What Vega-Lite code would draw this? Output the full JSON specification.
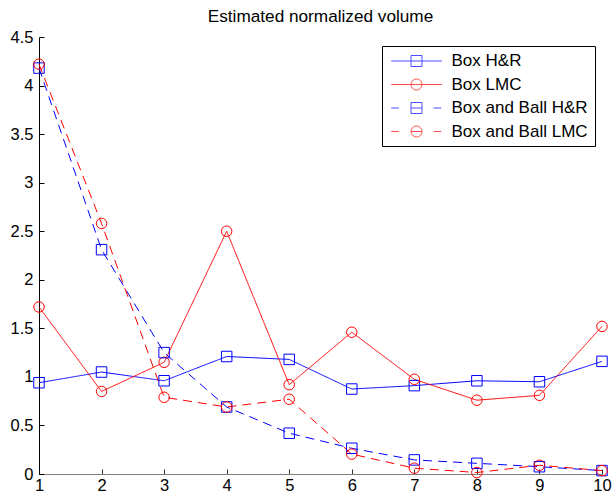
{
  "$schema": "https://vega.github.io/schema/vega-lite/v6.json",
  "width": 563,
  "height": 437,
  "autosize": "none",
  "padding": {"left": 39, "top": 37, "right": 12, "bottom": 25},
  "background": "white",
  "title": {"text": "Estimated normalized volume", "font": "Liberation Sans", "fontSize": 17.2, "fontWeight": "normal", "color": "black", "anchor": "middle", "frame": "group", "baseline": "alphabetic", "offset": 12, "dy": 22},
  "data": {"values": [
    {"x": 1, "series": "Box H&R", "v": 0.94},
    {"x": 2, "series": "Box H&R", "v": 1.05},
    {"x": 3, "series": "Box H&R", "v": 0.96},
    {"x": 4, "series": "Box H&R", "v": 1.21},
    {"x": 5, "series": "Box H&R", "v": 1.18},
    {"x": 6, "series": "Box H&R", "v": 0.875},
    {"x": 7, "series": "Box H&R", "v": 0.91},
    {"x": 8, "series": "Box H&R", "v": 0.96},
    {"x": 9, "series": "Box H&R", "v": 0.95},
    {"x": 10, "series": "Box H&R", "v": 1.16},
    {"x": 1, "series": "Box LMC", "v": 1.72},
    {"x": 2, "series": "Box LMC", "v": 0.85},
    {"x": 3, "series": "Box LMC", "v": 1.15},
    {"x": 4, "series": "Box LMC", "v": 2.5},
    {"x": 5, "series": "Box LMC", "v": 0.92},
    {"x": 6, "series": "Box LMC", "v": 1.46},
    {"x": 7, "series": "Box LMC", "v": 0.975},
    {"x": 8, "series": "Box LMC", "v": 0.76},
    {"x": 9, "series": "Box LMC", "v": 0.81},
    {"x": 10, "series": "Box LMC", "v": 1.52},
    {"x": 1, "series": "Box and Ball H&R", "v": 4.18},
    {"x": 2, "series": "Box and Ball H&R", "v": 2.31},
    {"x": 3, "series": "Box and Ball H&R", "v": 1.25},
    {"x": 4, "series": "Box and Ball H&R", "v": 0.69},
    {"x": 5, "series": "Box and Ball H&R", "v": 0.42},
    {"x": 6, "series": "Box and Ball H&R", "v": 0.265},
    {"x": 7, "series": "Box and Ball H&R", "v": 0.145},
    {"x": 8, "series": "Box and Ball H&R", "v": 0.11},
    {"x": 9, "series": "Box and Ball H&R", "v": 0.075},
    {"x": 10, "series": "Box and Ball H&R", "v": 0.035},
    {"x": 1, "series": "Box and Ball LMC", "v": 4.22},
    {"x": 2, "series": "Box and Ball LMC", "v": 2.58},
    {"x": 3, "series": "Box and Ball LMC", "v": 0.79},
    {"x": 4, "series": "Box and Ball LMC", "v": 0.69},
    {"x": 5, "series": "Box and Ball LMC", "v": 0.77},
    {"x": 6, "series": "Box and Ball LMC", "v": 0.205},
    {"x": 7, "series": "Box and Ball LMC", "v": 0.06},
    {"x": 8, "series": "Box and Ball LMC", "v": 0.015},
    {"x": 9, "series": "Box and Ball LMC", "v": 0.09},
    {"x": 10, "series": "Box and Ball LMC", "v": 0.035}
  ]},
  "encoding": {
    "x": {"field": "x", "type": "quantitative", "scale": {"domain": [1, 10], "nice": false, "zero": false},
      "axis": {"title": null, "values": [1,2,3,4,5,6,7,8,9,10], "format": "d", "grid": false, "labelFlush": false, "labelOverlap": false,
        "domainColor": "#808080", "tickColor": "#333333", "tickSize": -5, "labelFont": "Liberation Sans", "labelFontSize": 16.5, "labelColor": "black", "labelPadding": 8}},
    "y": {"field": "v", "type": "quantitative", "scale": {"domain": [0, 4.5], "nice": false},
      "axis": {"title": null, "values": [0,0.5,1,1.5,2,2.5,3,3.5,4,4.5], "format": "~g", "grid": false, "labelFlush": false, "labelOverlap": false,
        "domainColor": "black", "tickColor": "black", "tickSize": -5, "labelFont": "Liberation Sans", "labelFontSize": 16.5, "labelColor": "black", "labelPadding": 11}}
  },
  "layer": [
    {"mark": {"type": "line", "strokeWidth": 1},
      "encoding": {
        "color": {"field": "series", "type": "nominal", "legend": null,
          "scale": {"domain": ["Box H&R", "Box LMC", "Box and Ball H&R", "Box and Ball LMC"], "range": ["#0000ff", "#ff0000", "#0000ff", "#ff0000"]}},
        "strokeDash": {"field": "series", "type": "nominal", "legend": null,
          "scale": {"domain": ["Box H&R", "Box LMC", "Box and Ball H&R", "Box and Ball LMC"], "range": [[1, 0], [1, 0], [9, 6], [9, 6]]}}}},
    {"mark": {"type": "point", "filled": false, "size": 0, "strokeWidth": 1},
      "encoding": {
        "color": {"field": "series", "type": "nominal",
          "scale": {"domain": ["Box H&R", "Box LMC", "Box and Ball H&R", "Box and Ball LMC"], "range": ["#0000ff", "#ff0000", "#0000ff", "#ff0000"]},
          "legend": {"orient": "none", "legendX": 343, "legendY": 9, "title": null, "padding": 6.5, "strokeColor": "black", "fillColor": "white", "cornerRadius": 0,
            "symbolSize": 121, "symbolOffset": 19.5, "labelOffset": 26.5, "labelFont": "Liberation Sans", "labelFontSize": 17, "labelColor": "black", "rowPadding": 5.5, "symbolStrokeWidth": 1, "labelLimit": 300}},
        "shape": {"field": "series", "type": "nominal",
          "scale": {"domain": ["Box H&R", "Box LMC", "Box and Ball H&R", "Box and Ball LMC"],
            "range": ["M-4.6,0H4.6M-1,-1H1V1H-1Z", "M-4.6,0H4.6M1,0A1,1,0,1,1,-1,0A1,1,0,1,1,1,0", "M-4.6,0H-3.2M3.1,0H4.5M-1,0H1M-1,-1H1V1H-1Z", "M-4.6,0H-3.2M3.1,0H4.5M-1,0H1M1,0A1,1,0,1,1,-1,0A1,1,0,1,1,1,0"]},
          "legend": {"orient": "none", "legendX": 343, "legendY": 9, "title": null, "padding": 6.5, "strokeColor": "black", "fillColor": "white", "cornerRadius": 0,
            "symbolSize": 121, "symbolOffset": 19.5, "labelOffset": 26.5, "labelFont": "Liberation Sans", "labelFontSize": 17, "labelColor": "black", "rowPadding": 5.5, "symbolStrokeWidth": 1, "labelLimit": 300}}}},
    {"mark": {"type": "point", "filled": false, "size": 110, "strokeWidth": 1, "opacity": 1},
      "encoding": {
        "color": {"field": "series", "type": "nominal", "legend": null,
          "scale": {"domain": ["Box H&R", "Box LMC", "Box and Ball H&R", "Box and Ball LMC"], "range": ["#0000ff", "#ff0000", "#0000ff", "#ff0000"]}},
        "shape": {"field": "series", "type": "nominal", "legend": null,
          "scale": {"domain": ["Box H&R", "Box LMC", "Box and Ball H&R", "Box and Ball LMC"], "range": ["square", "circle", "square", "circle"]}}}}
  ],
  "resolve": {"scale": {"shape": "independent", "color": "independent"}},
  "config": {"view": {"stroke": null}}
}
